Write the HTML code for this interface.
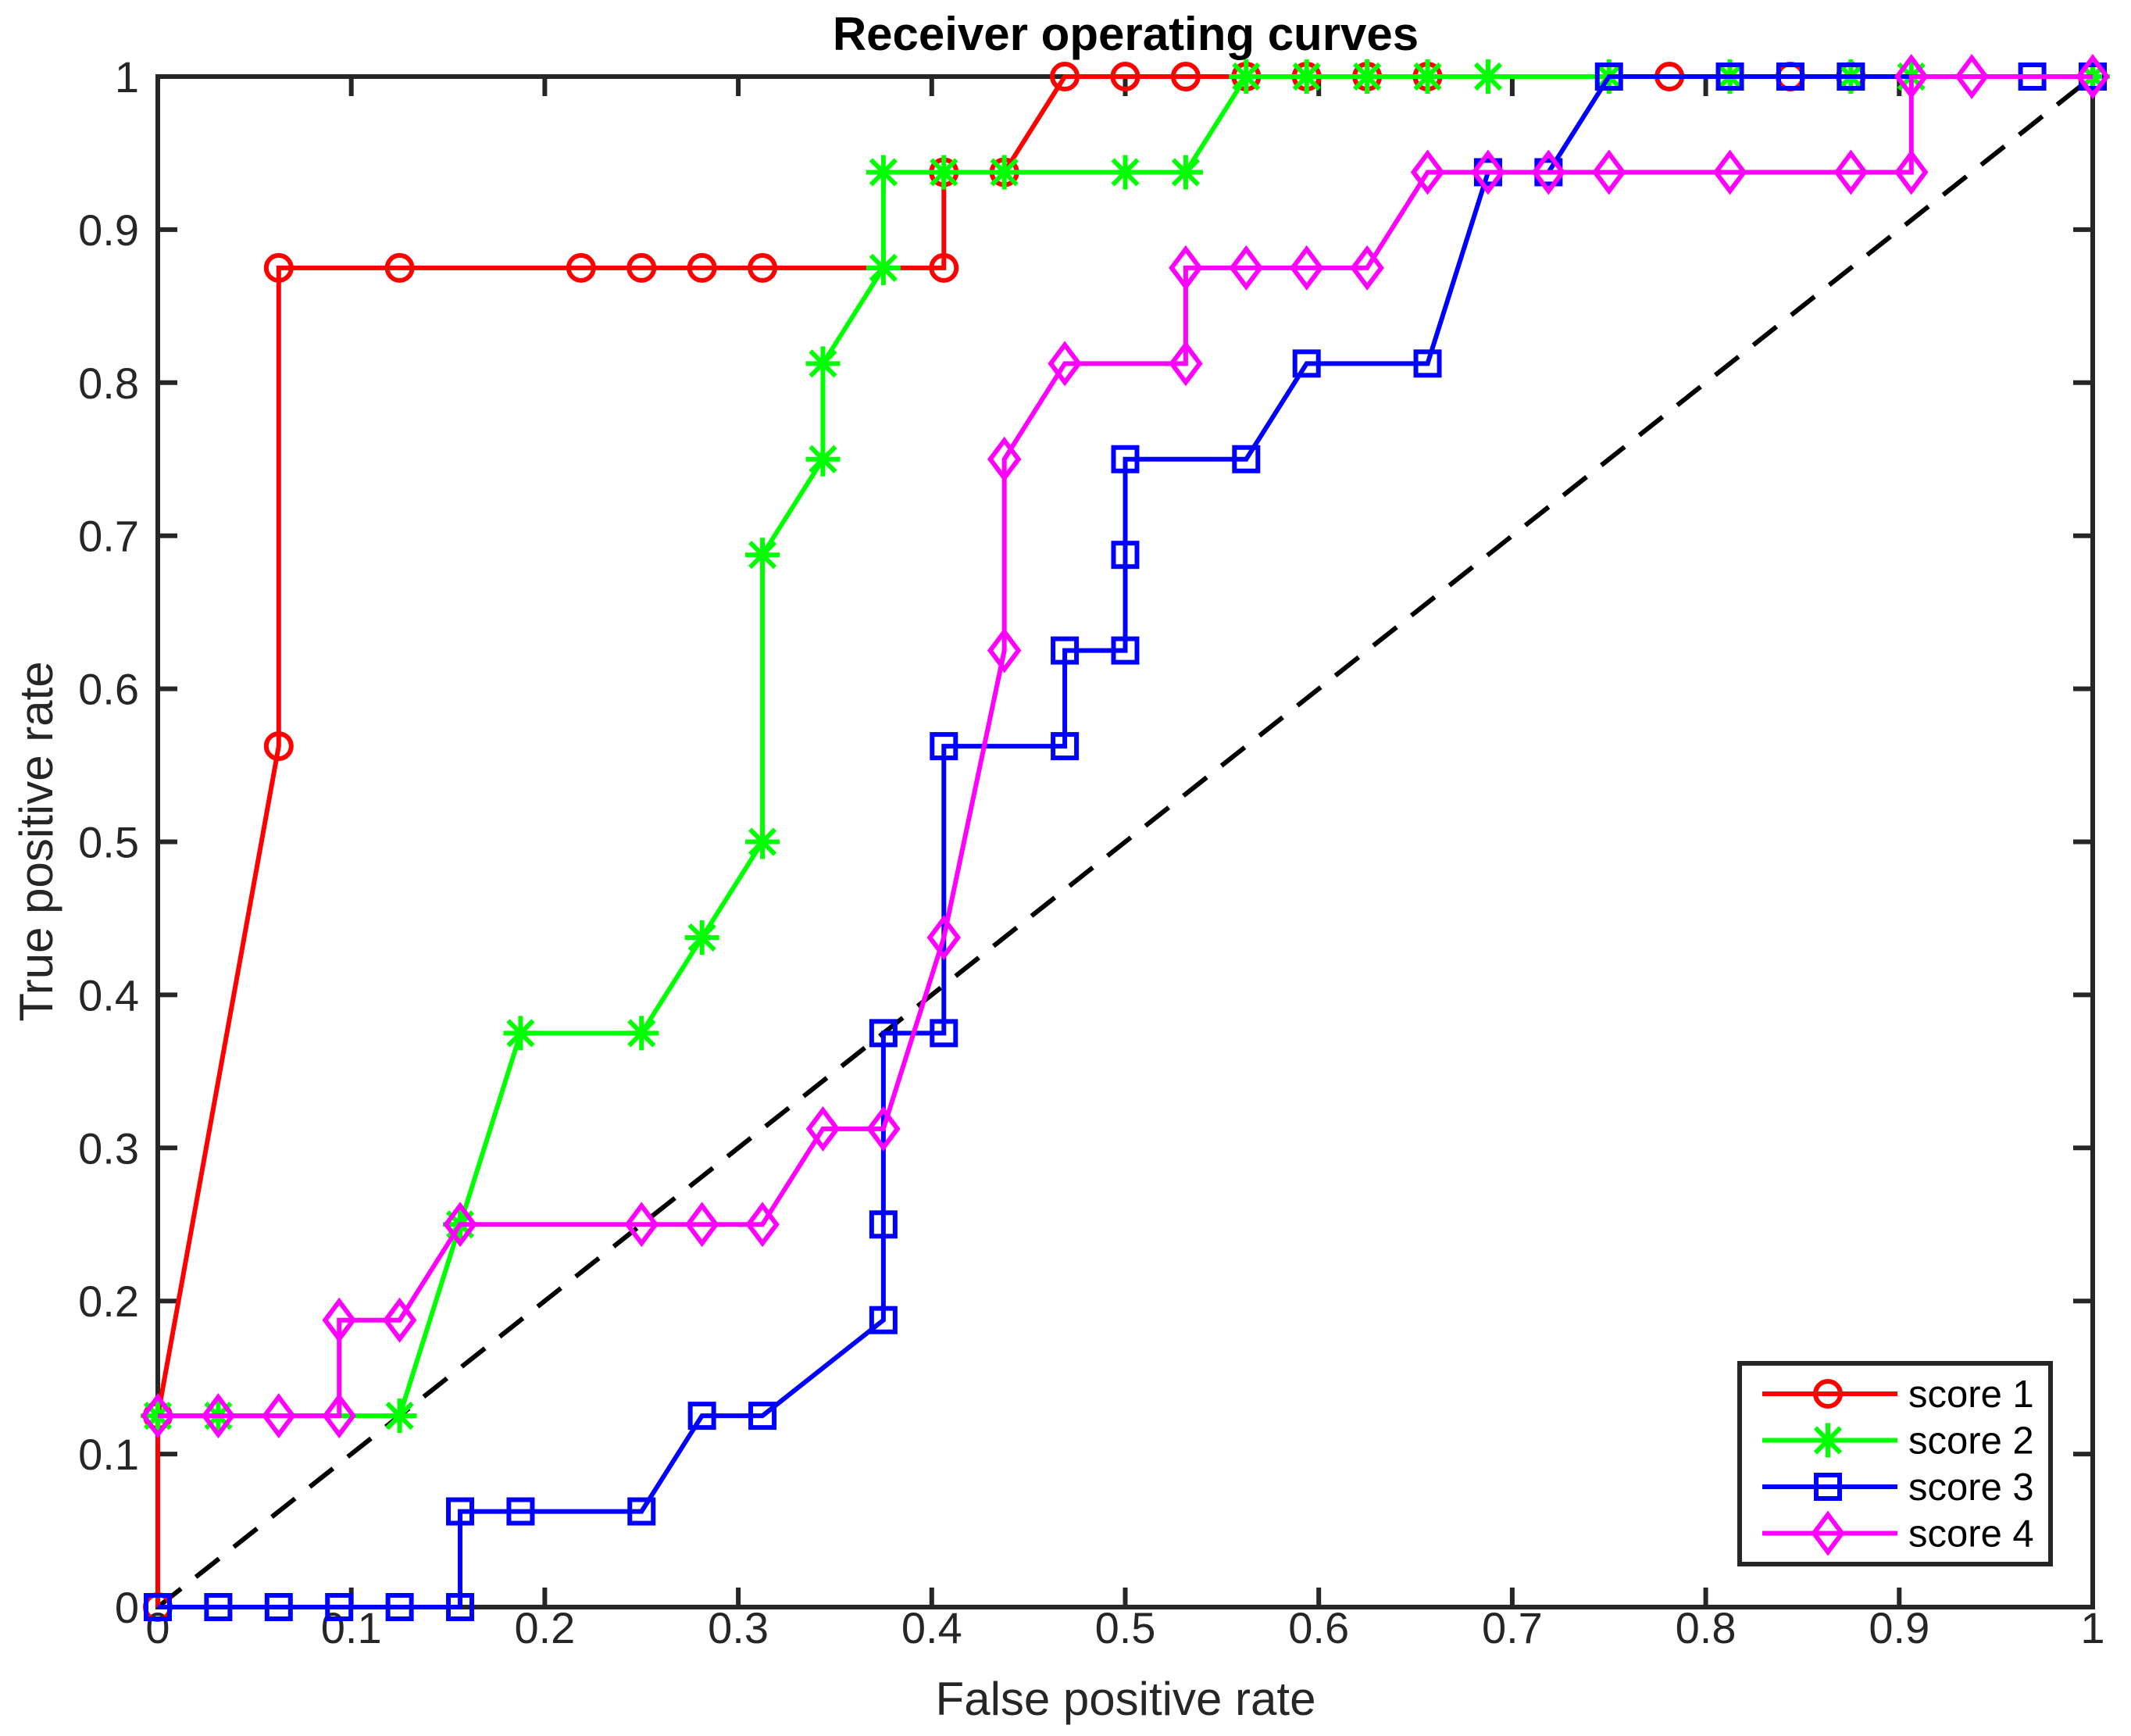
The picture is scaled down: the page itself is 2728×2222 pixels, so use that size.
<!DOCTYPE html>
<html><head><meta charset="utf-8"><style>
html,body{margin:0;padding:0;background:#fff;}
svg{display:block;font-family:"Liberation Sans",Arial,sans-serif;}
</style></head><body>
<svg id="chart" width="2728" height="2222" viewBox="0 0 2728 2222" xmlns="http://www.w3.org/2000/svg">
<rect width="2728" height="2222" fill="#fff"/>
<text x="1441" y="64" font-size="60" font-weight="bold" text-anchor="middle" fill="#000">Receiver operating curves</text>
<text x="1441" y="2195" font-size="60" text-anchor="middle" fill="#262626">False positive rate</text>
<text transform="translate(67,1077) rotate(-90)" font-size="60" text-anchor="middle" fill="#262626">True positive rate</text>
<g id="grid"></g>
<g id="series"></g>
<g id="legend"></g>
</svg>
<script>
const xTicks=[0,0.1,0.2,0.3,0.4,0.5,0.6,0.7,0.8,0.9,1];
const yTicks=[0,0.1,0.2,0.3,0.4,0.5,0.6,0.7,0.8,0.9,1];
const tickLabels=["0","0.1","0.2","0.3","0.4","0.5","0.6","0.7","0.8","0.9","1"];
const seriesNames=["score 1","score 2","score 3","score 4"];
const s1x=[0,0,0.0625,0.0625,0.125,0.21875,0.25,0.28125,0.3125,0.40625,0.40625,0.4375,0.46875,0.5,0.53125,0.5625,0.59375,0.625,0.65625,0.78125,0.84375,0.875,1];
const s1y=[0,0.125,0.5625,0.875,0.875,0.875,0.875,0.875,0.875,0.875,0.9375,0.9375,1,1,1,1,1,1,1,1,1,1,1];
const s2x=[0,0.03125,0.125,0.15625,0.1875,0.25,0.28125,0.3125,0.3125,0.34375,0.34375,0.375,0.375,0.40625,0.4375,0.5,0.53125,0.5625,0.59375,0.625,0.65625,0.6875,0.75,0.8125,0.875,0.90625,1];
const s2y=[0.125,0.125,0.125,0.25,0.375,0.375,0.4375,0.5,0.6875,0.75,0.8125,0.875,0.9375,0.9375,0.9375,0.9375,0.9375,1,1,1,1,1,1,1,1,1,1];
const s3x=[0,0.03125,0.0625,0.09375,0.125,0.15625,0.15625,0.1875,0.25,0.28125,0.3125,0.375,0.375,0.375,0.40625,0.40625,0.46875,0.46875,0.5,0.5,0.5,0.5625,0.59375,0.65625,0.6875,0.71875,0.75,0.8125,0.84375,0.875,0.96875,1];
const s3y=[0,0,0,0,0,0,0.0625,0.0625,0.0625,0.125,0.125,0.1875,0.25,0.375,0.375,0.5625,0.5625,0.625,0.625,0.6875,0.75,0.75,0.8125,0.8125,0.9375,0.9375,1,1,1,1,1,1];
const s4x=[0,0.03125,0.0625,0.09375,0.09375,0.125,0.15625,0.25,0.28125,0.3125,0.34375,0.375,0.40625,0.4375,0.4375,0.46875,0.53125,0.53125,0.5625,0.59375,0.625,0.65625,0.6875,0.71875,0.75,0.8125,0.875,0.90625,0.90625,0.9375,1];
const s4y=[0.125,0.125,0.125,0.125,0.1875,0.1875,0.25,0.25,0.25,0.25,0.3125,0.3125,0.4375,0.625,0.75,0.8125,0.8125,0.875,0.875,0.875,0.875,0.9375,0.9375,0.9375,0.9375,0.9375,0.9375,0.9375,1,1,1];

const NS="http://www.w3.org/2000/svg";
const X0=202,X1=2679,Y0=2057,Y1=98;
const sx=v=>X0+(X1-X0)*v, sy=v=>Y0-(Y0-Y1)*v;
function mk(tag,attrs,parent){const e=document.createElementNS(NS,tag);for(const k in attrs)e.setAttribute(k,attrs[k]);parent.appendChild(e);return e;}
const grid=document.getElementById('grid'),ser=document.getElementById('series'),leg=document.getElementById('legend');
const AX="#262626",TL=25,LW=6;
xTicks.forEach((v,i)=>{
  const x=sx(v);
  const t=mk('path',{d:`M${x},${Y0}V${Y0-TL}M${x},${Y1}V${Y1+TL}`,stroke:AX,'stroke-width':LW},grid);
  
  
  const l=mk('text',{x:x,y:Y0+46,'font-size':56,'text-anchor':'middle',fill:AX},grid);
  l.textContent=tickLabels[i];
  
  
});
yTicks.forEach((v,i)=>{
  const y=sy(v);
  const t=mk('path',{d:`M${X0},${y}H${X0+TL}M${X1},${y}H${X1-TL}`,stroke:AX,'stroke-width':LW},grid);
  
  
  const l=mk('text',{x:X0-24,y:y+20,'font-size':56,'text-anchor':'end',fill:AX},grid);
  l.textContent=tickLabels[i];
  
  
});
const box=mk('rect',{x:X0,y:Y1,width:X1-X0,height:Y0-Y1,fill:'none',stroke:AX,'stroke-width':LW},grid);



const diag=mk('line',{x1:sx(0),y1:sy(0),x2:sx(1),y2:sy(1),stroke:'#000','stroke-width':LW,'stroke-dasharray':'38 24'},ser);



const colors=['#ff0000','#00ff00','#0000ff','#ff00ff'];
const shapes=['circle','star','square','diamond'];
function marker(shape,x,y,c,p){
  let e;
  if(shape==='circle')e=mk('circle',{cx:x,cy:y,r:16,fill:'none',stroke:c,'stroke-width':LW},p);
  else if(shape==='square')e=mk('rect',{x:x-15,y:y-15,width:30,height:30,fill:'none',stroke:c,'stroke-width':LW},p);
  else if(shape==='diamond')e=mk('path',{d:`M${x},${y-24}L${x+18},${y}L${x},${y+24}L${x-18},${y}Z`,fill:'none',stroke:c,'stroke-width':LW},p);
  else e=mk('path',{d:`M${x},${y-22}V${y+22}M${x-22},${y}H${x+22}M${x-16},${y-16}L${x+16},${y+16}M${x-16},${y+16}L${x+16},${y-16}`,stroke:c,'stroke-width':LW},p);
  return e;
}
const allX=[s1x,s2x,s3x,s4x],allY=[s1y,s2y,s3y,s4y];
allX.forEach((xs,si)=>{
  const g=mk('g',{},ser);
  
  
  const pts=xs.map((v,i)=>sx(v)+','+sy(allY[si][i])).join(' ');
  const pl=mk('polyline',{points:pts,fill:'none',stroke:colors[si],'stroke-width':LW,'stroke-linejoin':'miter'},g);
  
  
  xs.forEach((v,i)=>{
    const m=marker(shapes[si],sx(v),sy(allY[si][i]),colors[si],g);
    
    
  });
});
const lb=mk('rect',{x:2227,y:1745,width:398,height:257,fill:'#fff',stroke:AX,'stroke-width':LW},leg);


seriesNames.forEach((n,i)=>{
  const y=1784+i*59.5;
  const g=mk('g',{},leg);
  
  
  mk('line',{x1:2256,y1:y,x2:2429,y2:y,stroke:colors[i],'stroke-width':LW},g);
  marker(shapes[i],2340,y,colors[i],g);
  const t=mk('text',{x:2443,y:y+17,'font-size':49,fill:'#000'},g);
  t.textContent=n;
});
</script>
</body></html>
